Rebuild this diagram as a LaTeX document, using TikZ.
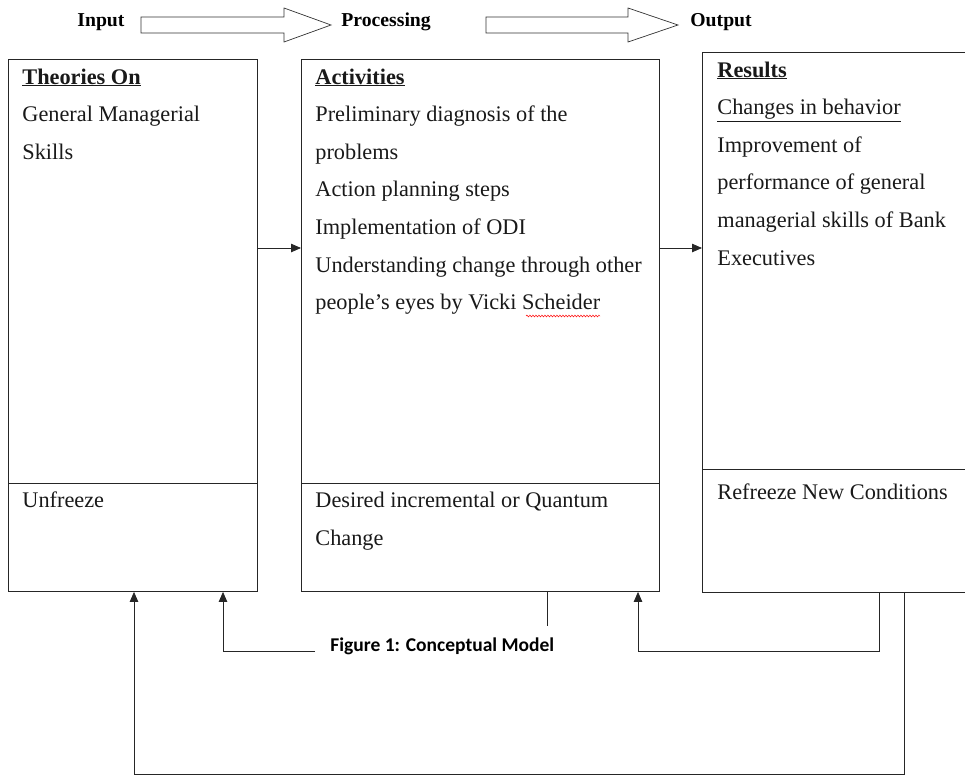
\documentclass[tikz,border=0pt]{standalone}
\usepackage{fontspec}
\setmainfont{Liberation Serif}
\newfontfamily\capfont{Carlito}
\usetikzlibrary{arrows.meta,decorations.pathmorphing}
\begin{document}
\begin{tikzpicture}[x=1pt,y=-1pt,
  line width=0.8pt,
  box/.style={draw=black!85,line width=0.9pt,rectangle,inner sep=0pt,anchor=north west},
  txt/.style={anchor=base west,inner sep=0pt,font=\fontsize{22.3}{24}\selectfont,text=black!90},
  hdr/.style={anchor=base west,inner sep=0pt,font=\fontsize{19.7}{22}\selectfont\bfseries},
  arr/.style={-{Triangle[length=10pt,width=8.5pt]},line width=0.8pt,black!85},
  ln/.style={line width=0.8pt,black!85},
  blockarrow/.style={draw=black!80,line width=0.7pt,fill=white}]
\useasboundingbox (0,0) rectangle (965,776);
% header
\node[hdr] (hin) at (77,27) {Input};
\node[hdr] (hproc) at (341,27) {Processing};
\node[hdr] (hout) at (690,27) {Output};
\draw[blockarrow] (141,17) -- (284,17) -- (284,8) -- (331,25) -- (284,42) -- (284,33) -- (141,33) -- cycle;
\draw[blockarrow] (486,17) -- (628,17) -- (628,8) -- (678,25) -- (628,42) -- (628,33) -- (486,33) -- cycle;
% boxes
\node[box,minimum width=249pt,minimum height=532pt] (L) at (8,59) {};
\node[box,minimum width=358pt,minimum height=532pt] (M) at (301,59) {};
\node[box,minimum width=280pt,minimum height=540pt] (R) at (702,52) {};
\draw[ln] (L.west |- 0,483) -- (L.east |- 0,483);
\draw[ln] (M.west |- 0,483) -- (M.east |- 0,483);
\draw[ln] (R.west |- 0,469) -- (R.east |- 0,469);
% left text
\node[txt] (t1) at (22,84) {\textbf{\underline{Theories On}}};
\node[txt] (t2) at (22,121.6) {General Managerial};
\node[txt] (t3) at (22,159.2) {Skills};
\node[txt] (t4) at (22,507) {Unfreeze};
% middle text
\node[txt] (m1) at (315,84) {\textbf{\underline{Activities}}};
\node[txt] (m2) at (315,121.6) {Preliminary diagnosis of the};
\node[txt] (m3) at (315,159.2) {problems};
\node[txt] (m4) at (315,196.8) {Action planning steps};
\node[txt] (m5) at (315,234.4) {Implementation of ODI};
\node[txt] (m6) at (315,272) {Understanding change through other};
\node[txt] (m7) at (315,309.6) {people’s eyes by Vicki Scheider};
\node[txt] (m8) at (315,507) {Desired incremental or Quantum};
\node[txt] (m9) at (315,545) {Change};
\draw[red,line width=0.5pt,decorate,decoration={snake,amplitude=0.9pt,segment length=3pt}] (526,316) -- (600,316);
% right text
\node[txt] (r1) at (717,77) {\textbf{\underline{Results}}};
\node[txt] (r2) at (717,114.6) {\underline{Changes in behavior}};
\node[txt] (r3) at (717,152.2) {Improvement of};
\node[txt] (r4) at (717,189.8) {performance of general};
\node[txt] (r5) at (717,227.4) {managerial skills of Bank};
\node[txt] (r6) at (717,265) {Executives};
\node[txt] (r7) at (717,499) {Refreeze New Conditions};
% caption
\node[anchor=base west,inner sep=0pt,font=\capfont\bfseries\fontsize{19.5}{22}\selectfont] (cap) at (330,651) {Figure 1: Conceptual Model};
% connectors
\draw[arr] (L.east |- 0,248) -- (M.west |- 0,248);
\draw[arr] (M.east |- 0,248) -- (R.west |- 0,248);
\coordinate (c1) at (223,651);
\coordinate (c2) at (315,651);
\draw[arr] (c2) -- (c1) -- (L.south -| c1);
\coordinate (c3) at (547,626);
\draw[ln] (M.south -| c3) -- (c3);
\coordinate (c4) at (638,651);
\coordinate (c5) at (879,651);
\draw[arr] (R.south -| c5) -- (c5) -- (c4) -- (M.south -| c4);
\coordinate (c6) at (904,774);
\coordinate (c7) at (134,774);
\draw[arr] (R.south -| c6) -- (c6) -- (c7) -- (L.south -| c7);
\end{tikzpicture}
\end{document}
